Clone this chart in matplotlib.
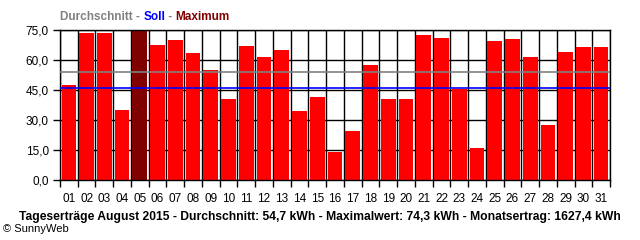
import numpy as np
import matplotlib
matplotlib.use("Agg")
import matplotlib.pyplot as plt
from matplotlib.ticker import FixedLocator, FuncFormatter

plt.rcParams["font.family"] = ["Liberation Sans", "DejaVu Sans"]

# daily yields August 2015 (kWh)
days = [f"{d:02d}" for d in range(1, 32)]
yields = [47.5, 73.5, 73.5, 35.0, 74.3, 67.5, 70.0, 63.5, 55.0, 40.5,
          67.0, 61.5, 65.0, 34.5, 41.5, 14.2, 24.5, 57.5, 40.5, 40.5,
          72.5, 71.0, 45.5, 16.0, 69.5, 70.5, 61.5, 27.5, 64.0, 66.5, 66.5]
avg_line = 54.0      # "Durchschnitt" line as drawn
soll_line = 45.8     # target line
yticks = [0, 15, 30, 45, 60, 75]

footer = ("Tageserträge August 2015 - Durchschnitt: 54,7 kWh - "
          "Maximalwert: 74,3 kWh - Monatsertrag: 1627,4 kWh")

W, H = 640, 240
fig = plt.figure(figsize=(W / 100, H / 100), dpi=100)
ax = fig.add_axes([60 / W, 1 - 180 / H, 550 / W, 150 / H])

x = np.arange(1, len(days) + 1)
imax = int(np.argmax(yields))
colors = ["#800000" if i == imax else "#ff0000" for i in range(len(days))]
ax.bar(x, yields, width=0.83, color=colors, zorder=2)
ax.axhline(avg_line, color="#808080", lw=1.2, zorder=3)
ax.axhline(soll_line, color="#0000ff", lw=1.2, zorder=3)

ax.set_xlim(0.5, len(days) + 0.5)
ax.set_ylim(0, 75)
ax.xaxis.set_major_locator(FixedLocator(x))
ax.set_xticklabels(days)
ax.xaxis.set_minor_locator(FixedLocator(np.arange(0.5, len(days) + 1)))
ax.set_yticks(yticks)
ax.yaxis.set_major_formatter(FuncFormatter(lambda v, p: f"{v:.1f}".replace(".", ",")))

ax.tick_params(axis="x", which="major", length=0, pad=9, labelsize=8.5)
ax.tick_params(axis="x", which="minor", length=5, width=1, color="black")
ax.tick_params(axis="y", length=5, width=1, pad=3, labelsize=8.5)
ax.grid(axis="y", which="major", color="black", lw=1)
ax.grid(axis="x", which="minor", color="black", lw=1)
ax.set_axisbelow(True)
for s in ax.spines.values():
    s.set_linewidth(1)

# legend-like title in three colours
parts = [("Durchschnitt - ", "#808080"), ("Soll", "#0000ff"),
         (" - ", "#808080"), ("Maximum", "#800000")]
fig.canvas.draw()
xpos = 60 / W
for txt, col in parts:
    t = fig.text(xpos, 1 - 17 / H, txt, color=col, fontsize=8.5, fontweight="bold",
                 va="center", ha="left")
    bb = t.get_window_extent(renderer=fig.canvas.get_renderer())
    xpos += bb.width / W

fig.text(320 / W, 1 - 217 / H, footer, fontsize=8.75, fontweight="bold",
         ha="center", va="center")
fig.text(3 / W, 1 - 229 / H, "© SunnyWeb", fontsize=8, ha="left", va="center")

fig.savefig("out.png", dpi=100)
